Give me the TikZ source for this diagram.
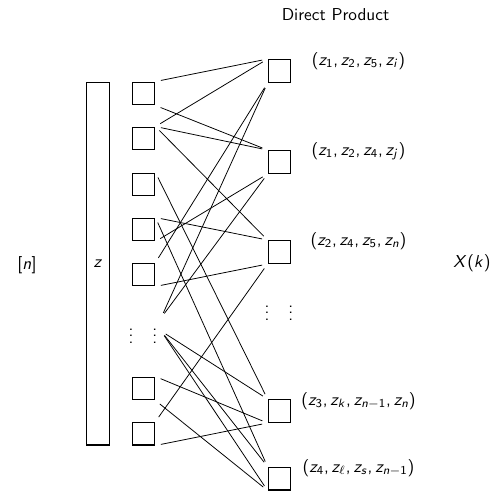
\documentclass[tikz,border=0pt]{standalone}
\usepackage{amsmath,amssymb}
\usetikzlibrary{positioning}
% sans serif math for the labels
\DeclareSymbolFont{sfit}{OT1}{cmss}{m}{sl}
\DeclareSymbolFont{sfup}{OT1}{cmss}{m}{n}
\DeclareMathSymbol{z}{\mathalpha}{sfit}{`z}
\DeclareMathSymbol{i}{\mathalpha}{sfit}{`i}
\DeclareMathSymbol{j}{\mathalpha}{sfit}{`j}
\DeclareMathSymbol{k}{\mathalpha}{sfit}{`k}
\DeclareMathSymbol{n}{\mathalpha}{sfit}{`n}
\DeclareMathSymbol{s}{\mathalpha}{sfit}{`s}
\DeclareMathSymbol{X}{\mathalpha}{sfit}{`X}
\DeclareMathSymbol{1}{\mathalpha}{sfup}{`1}
\DeclareMathSymbol{2}{\mathalpha}{sfup}{`2}
\DeclareMathSymbol{3}{\mathalpha}{sfup}{`3}
\DeclareMathSymbol{4}{\mathalpha}{sfup}{`4}
\DeclareMathSymbol{5}{\mathalpha}{sfup}{`5}
\DeclareMathSymbol{(}{\mathopen}{sfup}{`(}
\DeclareMathSymbol{)}{\mathclose}{sfup}{`)}
\DeclareMathSymbol{[}{\mathopen}{sfup}{`[}
\DeclareMathSymbol{]}{\mathclose}{sfup}{`]}
\DeclareMathSymbol{,}{\mathpunct}{sfup}{`,}
\tikzset{
  sq/.style={draw,line width=0.6pt,minimum size=13.3pt,inner sep=0pt},
  dotcol/.style={inner xsep=2pt,inner ysep=0pt},
  link/.style={line width=0.45pt,shorten <=3.2pt,shorten >=3.2pt},
}

\begin{document}
\begin{tikzpicture}[x=0.58pt,y=-0.58pt, every node/.style={font=\sffamily}]
\useasboundingbox (0,0) rectangle (492,491);

% input side
\node at (27,265) (n) {$[n]$};
\node[draw,line width=0.6pt,minimum width=12.8pt,minimum height=210.5pt,inner sep=0pt] (zcol) at (98,263.5) {$z$};

\node[sq] (L1) at (143.5,93.5) {};
\node[sq] (L2) at (143.5,138.5) {};
\node[sq] (L3) at (143.5,184.5) {};
\node[sq] (L4) at (143.5,229.5) {};
\node[sq] (L5) at (143.5,274.5) {};
\node[dotcol] (Ld) at (143,331) {$\vdots\hspace{11pt}\vdots$};
\node[sq] (L6) at (143.5,388.5) {};
\node[sq] (L7) at (143.5,433.5) {};

% product side
\node (dp) at (335.5,15) {Direct Product};
\node[sq] (R1) at (279.5,71) {};
\node[sq] (R2) at (279.5,162) {};
\node[sq] (R3) at (279.5,252) {};
\node[dotcol] (Rd) at (279,308) {$\vdots\hspace{11pt}\vdots$};
\node[sq] (R4) at (279.5,411) {};
\node[sq] (R5) at (279.5,478.5) {};

\node (t1) at (358.5,61) {$(z_1, z_2, z_5, z_i)$};
\node (t2) at (358.5,151) {$(z_1, z_2, z_4, z_j)$};
\node (t3) at (358.5,241) {$(z_2, z_4, z_5, z_n)$};
\node (t4) at (358.5,401) {$(z_3, z_k, z_{n-1}, z_n)$};
\node (t5) at (358.5,468) {$(z_4, z_\ell, z_s, z_{n-1})$};

\node (Xk) at (472,263) {$X(k)$};

% wiring
\draw[link] (L1.north east) -- (R1.north west);
\draw[link] (L1.south east) -- (R2.north west);
\draw[link] (L2.north east) -- (R1.north west);
\draw[link] (L2.north east) -- (R2.north west);
\draw[link] (L2.north east) -- (R3.north west);
\draw[link] (L3.north east) -- (R4.north west);
\draw[link] (L4.south east) -- (R2.south west);
\draw[link] (L4.north east) -- (R3.north west);
\draw[link] (L4.north east) -- (R5.north west);
\draw[link] (L5.north east) -- (R1.south west);
\draw[link] (L5.south east) -- (R3.south west);
\draw[link] (Ld.north east) -- (R1.south west);
\draw[link] (Ld.north east) -- (R2.south west);
\draw[link] (Ld.east) -- (R4.north west);
\draw[link] (Ld.east) -- (R5.north west);
\draw[link] (Ld.east) -- (R5.south west);
\draw[link] (L6.north east) -- (R4.south west);
\draw[link] (L6.south east) -- (R5.south west);
\draw[link] (L7.north east) -- (R3.south west);
\draw[link] (L7.south east) -- (R4.south west);
\end{tikzpicture}
\end{document}
